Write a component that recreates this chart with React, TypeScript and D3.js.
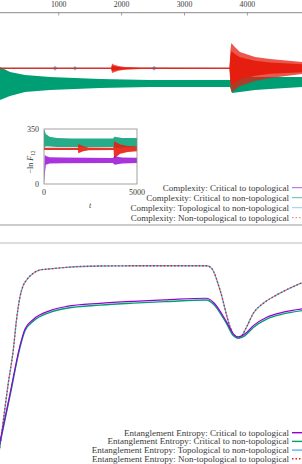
import * as d3 from "d3";
import React from "react";

// time axis shared by both panels (only 1000..4000 labels are visible)
const timeTicks = [1000, 2000, 3000, 4000];

// top panel: complexity bands (upper / lower envelope of the fast oscillation)
const greenT = [0, 67, 226, 464, 862, 1657, 2451, 3723, 3755, 3882, 4121, 4359, 4868];
const greenHi = [7.49, 7.44, 7.21, 7.07, 6.97, 6.88, 6.83, 6.83, 6.97, 7.02, 6.97, 6.97, 6.97];
const greenLo = [5.79, 5.89, 6.08, 6.26, 6.36, 6.45, 6.5, 6.5, 6.22, 6.26, 6.36, 6.41, 6.5];

// red: outer envelope and the denser core of the oscillation
const redT = [0, 1835, 1848, 1870, 1950, 2054, 2300, 3715, 3730, 3745, 3800, 3882, 4121, 4359, 4868];
const redHi = [7.405, 7.405, 7.607, 7.56, 7.489, 7.442, 7.414, 7.405, 8.243, 8.573, 8.385, 8.149, 7.913, 7.819, 7.678];
const redLo = [7.358, 7.358, 7.16, 7.183, 7.263, 7.31, 7.348, 7.358, 6.595, 6.265, 6.359, 6.547, 6.783, 6.924, 7.113];
const redCoreHi = [7.405, 7.405, 7.513, 7.489, 7.442, 7.419, 7.405, 7.405, 7.96, 8.2, 8.05, 7.9, 7.74, 7.65, 7.57];
const redCoreLo = [7.358, 7.358, 7.254, 7.263, 7.31, 7.334, 7.358, 7.358, 6.85, 6.6, 6.7, 6.86, 7.03, 7.12, 7.2];

const blueT = [0, 910, 941, 975, 1230, 1259, 1290, 2485, 2515, 2550, 4868];
const blueHi = [7.41, 7.41, 7.5, 7.41, 7.41, 7.49, 7.41, 7.41, 7.5, 7.41, 7.41];
const blueLo = [7.355, 7.355, 7.27, 7.355, 7.355, 7.28, 7.355, 7.355, 7.27, 7.355, 7.355];

// inset: -ln F_12 against t
const inGreenT = [0, 100, 300, 700, 1500, 3700, 3800, 4200, 5000];
const inGreenHi = [348, 318, 300, 292, 290, 290, 300, 293, 292];
const inGreenLo = [228, 240, 238, 236, 236, 236, 228, 233, 236];

const inRedT = [0, 1820, 1850, 2100, 2400, 3740, 3770, 4100, 4500, 5000];
const inRedHi = [230, 230, 255, 240, 233, 230, 272, 252, 242, 238];
const inRedLo = [217, 217, 195, 208, 214, 217, 162, 192, 203, 208];

const inPurpleT = [0, 40, 100, 300, 1000, 3700, 3800, 4200, 5000];
const inPurpleHi = [30, 188, 178, 170, 168, 166, 176, 168, 167];
const inPurpleLo = [0, 60, 122, 130, 132, 134, 122, 131, 133];

// bottom panel: entanglement entropy
const entDashT = [0, 32, 94, 194, 278, 329, 385, 432, 491, 596, 703, 862, 1127, 1657, 2181, 3353, 3433, 3565, 3724, 3803, 3856, 3898, 3989, 4094, 4253, 4466, 4677, 4868];
const entBlue = [-0.1, 0, 0.14, 0.357, 0.516, 0.652, 0.757, 0.805, 0.833, 0.863, 0.878, 0.883, 0.89, 0.896, 0.897, 0.897, 0.885, 0.787, 0.621, 0.576, 0.57, 0.576, 0.621, 0.682, 0.727, 0.765, 0.796, 0.82];
const entRed = [-0.1, 0, 0.14, 0.357, 0.516, 0.652, 0.757, 0.805, 0.833, 0.863, 0.878, 0.883, 0.89, 0.896, 0.897, 0.897, 0.885, 0.787, 0.621, 0.576, 0.57, 0.576, 0.621, 0.682, 0.727, 0.765, 0.796, 0.82];

const entSolidT = [0, 67, 226, 385, 464, 596, 862, 1127, 1657, 2181, 2717, 3353, 3458, 3671, 3776, 3856, 3962, 4094, 4307, 4571, 4868];
const entPurple = [0.004, 0.1, 0.317, 0.536, 0.611, 0.654, 0.694, 0.713, 0.727, 0.736, 0.743, 0.75, 0.732, 0.642, 0.589, 0.575, 0.589, 0.626, 0.664, 0.687, 0.702];
const entGreen = [-0.004, 0.092, 0.309, 0.528, 0.603, 0.646, 0.686, 0.705, 0.719, 0.728, 0.735, 0.742, 0.724, 0.634, 0.581, 0.569, 0.581, 0.618, 0.656, 0.679, 0.694];

const complexityLabels = [
  "Complexity: Critical to topological",
  "Complexity: Critical to non-topological",
  "Complexity: Topological to non-topological",
  "Complexity: Non-topological to topological",
];
const entropyLabels = [
  "Entanglement Entropy: Critical to topological",
  "Entanglement Entropy: Critical to non-topological",
  "Entanglement Entropy: Topological to non-topological",
  "Entanglement Entropy: Non-topological to topological",
];

const PURPLE = "#9400d3";
const GREEN = "#009e73";
const BLUE = "#56b4e9";
const RED = "#e51e10";
const FONT = "Liberation Serif, serif";
const TXT = "#3a3a3a";

const W = 302;
const H = 464;

const x = d3.scaleLinear().domain([0, 5000]).range([-4.2, 310.3]);
const yTop = d3.scaleLinear().domain([0, 10]).range([225, 12.7]);
const yBot = d3.scaleLinear().domain([0, 1]).range([464, 243]);
const xIn = d3.scaleLinear().domain([0, 5000]).range([44, 137]);
const yIn = d3.scaleLinear().domain([0, 350]).range([184, 129]);

type Sx = d3.ScaleLinear<number, number>;

const band = (t: number[], hi: number[], lo: number[], sx: Sx, sy: Sx) =>
  d3
    .area<number>()
    .x((i) => sx(t[i]))
    .y0((i) => sy(lo[i]))
    .y1((i) => sy(hi[i]))
    .curve(d3.curveLinear)(d3.range(t.length)) as string;

const curve = (t: number[], v: number[]) =>
  d3
    .line<number>()
    .x((i) => x(t[i]))
    .y((i) => yBot(v[i]))
    .curve(d3.curveMonotoneX)(d3.range(t.length)) as string;

const Legend = ({ labels, y0, step, faint }: { labels: string[]; y0: number; step: number; faint: boolean }) => {
  const cols = [PURPLE, GREEN, BLUE, RED];
  return (
    <g>
      {labels.map((l, i) => (
        <g key={l}>
          <text x={289} y={y0 + i * step} dy="0.33em" textAnchor="end" fontFamily={FONT} fontSize={9} fill={TXT}>
            {l}
          </text>
          <line
            x1={292}
            x2={304}
            y1={y0 + i * step}
            y2={y0 + i * step}
            stroke={cols[i]}
            strokeWidth={faint ? 1 : 1.4}
            strokeOpacity={faint ? 0.65 : 1}
            strokeDasharray={i === 3 ? "1.5,2" : undefined}
          />
        </g>
      ))}
    </g>
  );
};

export default function App() {
  return (
    <div style={{ position: "absolute", left: 0, top: 0, background: "#fff" }}>
      <svg width={W} height={H} viewBox={`0 0 ${W} ${H}`}>
        <defs>
          <clipPath id="topClip">
            <rect x={0} y={12.7} width={W} height={225 - 12.7} />
          </clipPath>
          <clipPath id="botClip">
            <rect x={0} y={243} width={W} height={H - 243} />
          </clipPath>
          <clipPath id="inClip">
            <rect x={44} y={129} width={93} height={55} />
          </clipPath>
        </defs>
        <rect width={W} height={H} fill="#fff" />

        {/* top panel */}
        <g clipPath="url(#topClip)">
          <path d={band(greenT, greenHi, greenLo, x, yTop)} fill={GREEN} />
          <path d={band(blueT, blueHi, blueLo, x, yTop)} fill={BLUE} opacity={0.9} />
          <path d={band(redT, redHi, redLo, x, yTop)} fill={RED} opacity={0.75} />
          <path d={band(redT, redCoreHi, redCoreLo, x, yTop)} fill={RED} />
        </g>
        <line x1={0} x2={W} y1={12.7} y2={12.7} stroke="#8a8a8a" strokeWidth={1} />
        <line x1={0} x2={W} y1={225} y2={225} stroke="#999" strokeWidth={1} />
        {timeTicks.map((t) => (
          <g key={t}>
            <line x1={x(t)} x2={x(t)} y1={12.7} y2={15.5} stroke="#8a8a8a" strokeWidth={0.8} />
            <text x={x(t)} y={4} dy="0.33em" textAnchor="middle" fontFamily={FONT} fontSize={7.8} fill={TXT}>
              {t}
            </text>
          </g>
        ))}

        {/* inset */}
        <g clipPath="url(#inClip)">
          <path d={band(inGreenT, inGreenHi, inGreenLo, xIn, yIn)} fill={GREEN} opacity={0.85} />
          <path d={band(inRedT, inRedHi, inRedLo, xIn, yIn)} fill={RED} opacity={0.9} />
          <path d={band(inPurpleT, inPurpleHi, inPurpleLo, xIn, yIn)} fill={PURPLE} opacity={0.8} />
        </g>
        <rect x={44} y={129} width={93} height={55} fill="none" stroke="#8a8a8a" strokeWidth={0.8} />
        {[0, 350].map((v) => (
          <text key={v} x={39} y={yIn(v)} dy="0.33em" textAnchor="end" fontFamily={FONT} fontSize={8} fill={TXT}>
            {v}
          </text>
        ))}
        {[0, 5000].map((t) => (
          <text key={t} x={xIn(t)} y={192.5} dy="0.33em" textAnchor="middle" fontFamily={FONT} fontSize={8} fill={TXT}>
            {t}
          </text>
        ))}
        <text x={90} y={205} dy="0.33em" textAnchor="middle" fontFamily={FONT} fontSize={8} fontStyle="italic" fill={TXT}>
          t
        </text>
        <text transform="translate(33,162) rotate(-90)" textAnchor="middle" fontFamily={FONT} fontSize={8} fill={TXT}>
          −ln <tspan fontStyle="italic">F</tspan>
          <tspan fontSize={5.5} dy={2}>12</tspan>
        </text>

        <Legend labels={complexityLabels} y0={187.7} step={10} faint={true} />

        {/* bottom panel */}
        <line x1={0} x2={W} y1={243} y2={243} stroke="#bbb" strokeWidth={1} />
        <g clipPath="url(#botClip)" fill="none">
          <path d={curve(entDashT, entBlue)} stroke={BLUE} strokeWidth={1.3} />
          <path d={curve(entDashT, entRed)} stroke={RED} strokeWidth={1.3} strokeDasharray="1.5,2" />
          <path d={curve(entSolidT, entGreen)} stroke={GREEN} strokeWidth={1.4} />
          <path d={curve(entSolidT, entPurple)} stroke={PURPLE} strokeWidth={1.2} />
        </g>
        <Legend labels={entropyLabels} y0={432.7} step={8.7} faint={false} />
      </svg>
    </div>
  );
}
